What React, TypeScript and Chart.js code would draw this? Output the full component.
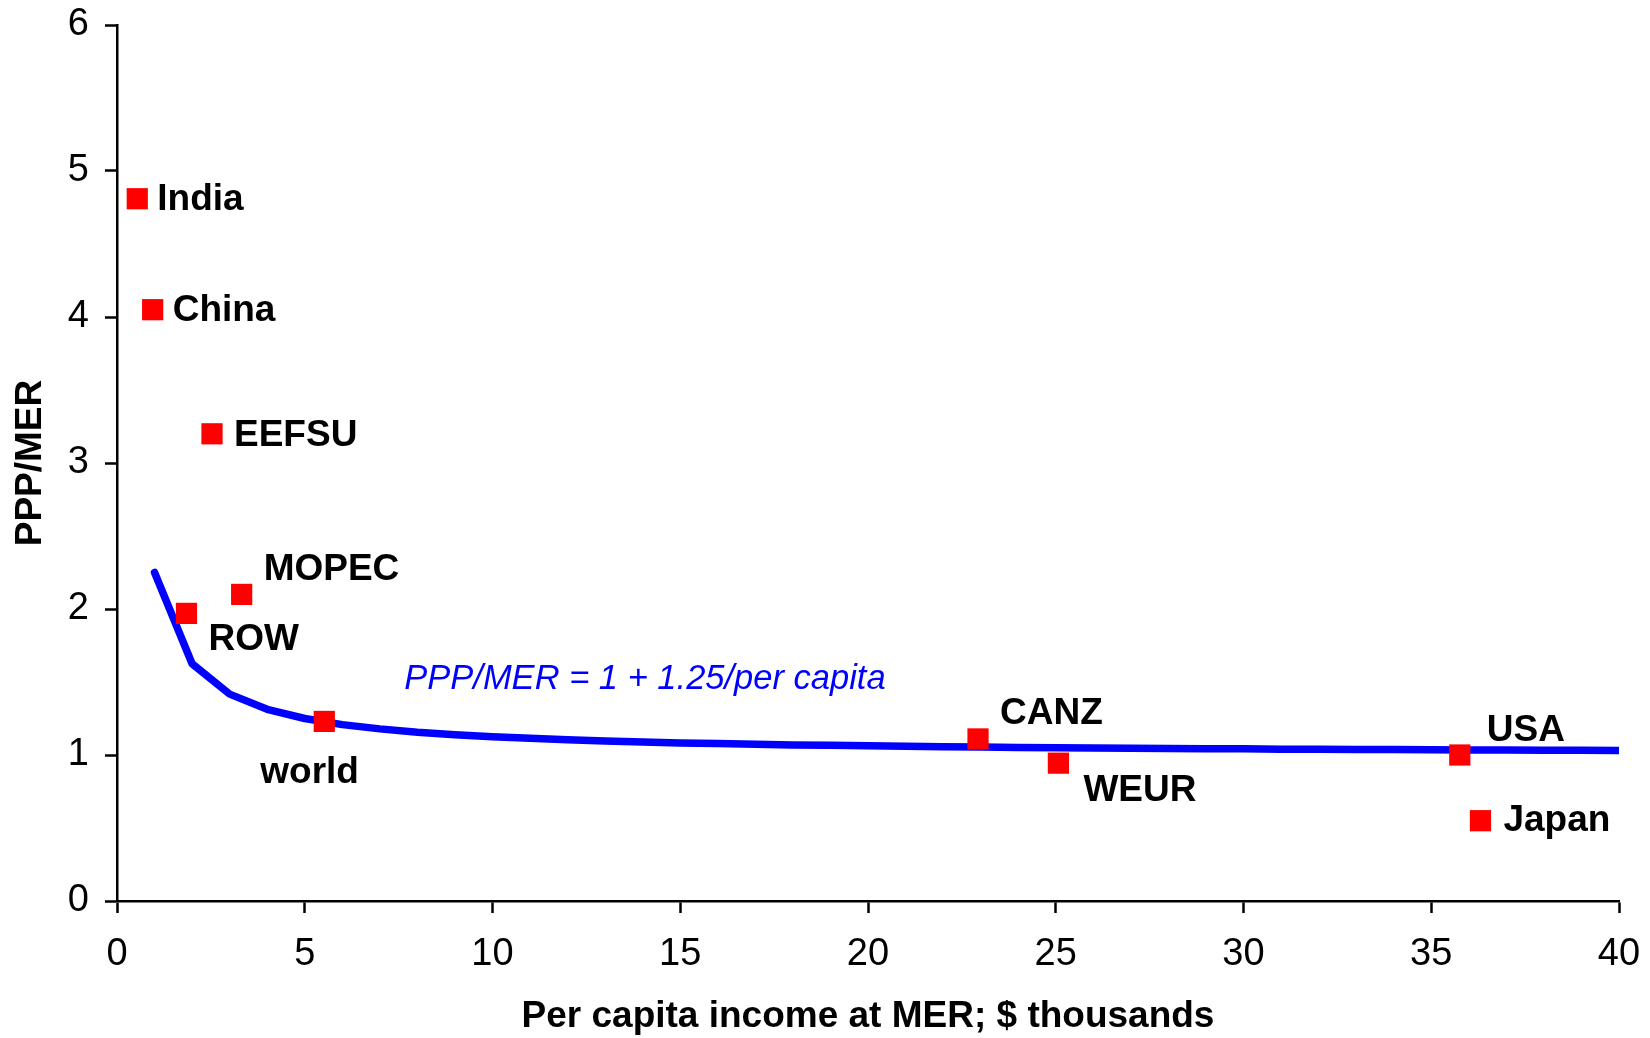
import React, { useEffect, useRef } from "react";
import { Chart, registerables } from "chart.js";

Chart.register(...registerables);

// ---- Data ----
const curveIncome = [
  1, 2, 3, 4, 5, 6, 7, 8, 9, 10, 11, 12, 13, 14, 15, 16, 17, 18, 19, 20,
  21, 22, 23, 24, 25, 26, 27, 28, 29, 30, 31, 32, 33, 34, 35, 36, 37, 38, 39, 40,
];
const curveRatio = [
  2.25, 1.625, 1.417, 1.313, 1.25, 1.208, 1.179, 1.156, 1.139, 1.125,
  1.114, 1.104, 1.096, 1.089, 1.083, 1.078, 1.074, 1.069, 1.066, 1.063,
  1.06, 1.057, 1.054, 1.052, 1.05, 1.048, 1.046, 1.045, 1.043, 1.042,
  1.04, 1.039, 1.038, 1.037, 1.036, 1.035, 1.034, 1.033, 1.032, 1.031,
];

const regionNames = ["India", "China", "EEFSU", "MOPEC", "ROW", "world", "CANZ", "WEUR", "USA", "Japan"];
const regionIncome = [0.54, 0.95, 2.53, 3.32, 1.85, 5.52, 22.93, 25.07, 35.76, 36.31];
const regionRatio = [4.81, 4.05, 3.2, 2.1, 1.97, 1.23, 1.11, 0.944, 1.0, 0.55];

const xTickStep = 5;
const yTickStep = 1;

const formulaText = "PPP/MER = 1 + 1.25/per capita";
const formulaAnchor = [7.65, 1.52];

const xTitle = "Per capita income at MER; $ thousands";
const yTitle = "PPP/MER";

// label offsets in pixels from marker centre (text left edge, text middle)
const labelOffsets: [number, number][] = [
  [20, 1],
  [20, 1],
  [22, 2],
  [22, -25],
  [22, 26],
  [-64, 51],
  [22, -25],
  [25, 28],
  [27, -24],
  [23, 0],
];

const FONT = '"Liberation Sans", Arial, Helvetica, sans-serif';

const labelPlugin = {
  id: "pointLabels",
  afterDatasetsDraw(chart: any) {
    const { ctx } = chart;
    const meta = chart.getDatasetMeta(1);
    ctx.save();
    ctx.font = `bold 37px ${FONT}`;
    ctx.fillStyle = "#000000";
    ctx.textAlign = "left";
    ctx.textBaseline = "middle";
    meta.data.forEach((pt: any, i: number) => {
      const [dx, dy] = labelOffsets[i];
      ctx.fillText(regionNames[i], pt.x + dx, pt.y + dy);
    });
    const xs = chart.scales.x;
    const ys = chart.scales.y;
    ctx.font = `italic 34.5px ${FONT}`;
    ctx.fillStyle = "#0000ff";
    ctx.fillText(
      formulaText,
      xs.getPixelForValue(formulaAnchor[0]),
      ys.getPixelForValue(formulaAnchor[1])
    );
    ctx.restore();
  },
};

const zeroPad = (scale: any) => {
  scale.paddingTop = 0;
  scale.paddingBottom = 0;
  scale.paddingLeft = 0;
  scale.paddingRight = 0;
};

export default function App() {
  const canvasRef = useRef<HTMLCanvasElement | null>(null);

  useEffect(() => {
    document.body.style.margin = "0";
    const canvas = canvasRef.current;
    if (!canvas) return;

    const lineData = curveIncome.map((x, i) => ({ x, y: curveRatio[i] }));
    const pointData = regionIncome.map((x, i) => ({ x, y: regionRatio[i] }));

    const chart = new Chart(canvas, {
      type: "scatter",
      data: {
        datasets: [
          {
            label: "PPP/MER curve",
            data: lineData,
            showLine: true,
            borderColor: "#0000ff",
            backgroundColor: "#0000ff",
            borderWidth: 7.5,
            pointRadius: 0,
            pointHoverRadius: 0,
            tension: 0,
            fill: false,
            borderCapStyle: "round",
            borderJoinStyle: "round",
            order: 1,
          } as any,
          {
            label: "Regions",
            data: pointData,
            showLine: false,
            pointStyle: "rect",
            pointRadius: 15,
            pointHoverRadius: 15,
            pointBackgroundColor: "#ff0000",
            pointBorderColor: "#ff0000",
            pointBorderWidth: 0,
            order: 0,
          } as any,
        ],
      },
      options: {
        responsive: false,
        animation: false,
        events: [],
        layout: { padding: { top: 25, right: 31, left: 0, bottom: 0 } },
        plugins: {
          legend: { display: false },
          tooltip: { enabled: false },
          title: { display: false },
        },
        scales: {
          x: {
            type: "linear",
            min: 0,
            max: 40,
            afterFit: (scale: any) => {
              scale.height = 137;
              zeroPad(scale);
            },
            ticks: {
              stepSize: xTickStep,
              color: "#000000",
              font: { family: FONT, size: 38 },
              padding: 19,
              maxRotation: 0,
            },
            grid: {
              display: true,
              drawOnChartArea: false,
              drawTicks: true,
              tickLength: 12,
              tickColor: "#000000",
              tickWidth: 2.5,
            },
            border: { display: true, color: "#000000", width: 2.5 },
            title: {
              display: true,
              text: xTitle,
              color: "#000000",
              font: { family: FONT, size: 37, weight: "bold" },
              padding: { top: 0, bottom: -1 },
            },
          },
          y: {
            type: "linear",
            min: 0,
            max: 6,
            afterFit: (scale: any) => {
              scale.width = 117;
              zeroPad(scale);
            },
            ticks: {
              stepSize: yTickStep,
              color: "#000000",
              font: { family: FONT, size: 38 },
              padding: 16,
            },
            grid: {
              display: true,
              drawOnChartArea: false,
              drawTicks: true,
              tickLength: 12,
              tickColor: "#000000",
              tickWidth: 2.5,
            },
            border: { display: true, color: "#000000", width: 2.5 },
            title: {
              display: true,
              text: yTitle,
              color: "#000000",
              font: { family: FONT, size: 37, weight: "bold" },
              padding: { top: 9, bottom: 0 },
            },
          },
        },
      } as any,
      plugins: [labelPlugin],
    });

    return () => {
      chart.destroy();
    };
  }, []);

  return (
    <div style={{ width: 1650, height: 1038, background: "#ffffff" }}>
      <canvas ref={canvasRef} width={1650} height={1038} style={{ display: "block" }} />
    </div>
  );
}
